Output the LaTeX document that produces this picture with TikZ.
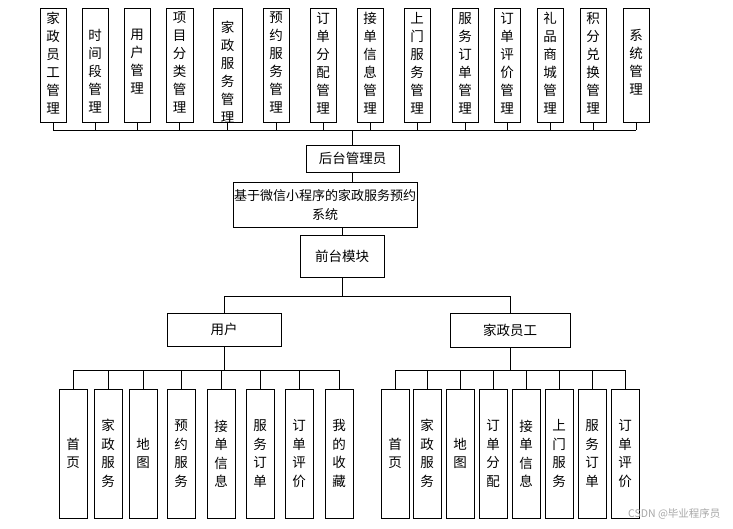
\documentclass[tikz,border=0pt]{standalone}
\usepackage{fontspec}
\setmainfont{Noto Sans CJK SC}
\begin{document}
\begin{tikzpicture}[x=1pt,y=-1pt,
  bx/.style={draw,line width=0.9pt,fill=white},
  vt/.style={font=\fontsize{13.5}{18}\selectfont,align=center,inner sep=0pt,anchor=north},
  ln/.style={line width=0.9pt}]
\useasboundingbox (0,0) rectangle (733,528);
% top boxes
\foreach \a/\b/\t/\ty [count=\i] in {40/66/{家\\政\\员\\工\\管\\理}/12, 82/108/{时\\间\\段\\管\\理}/29, 124/150/{用\\户\\管\\理}/29, 166/193/{项\\目\\分\\类\\管\\理}/12, 213/242/{家\\政\\服\\务\\管\\理}/21, 263/289/{预\\约\\服\\务\\管\\理}/12, 310/336/{订\\单\\分\\配\\管\\理}/12, 357/383/{接\\单\\信\\息\\管\\理}/12, 404/430/{上\\门\\服\\务\\管\\理}/12, 452/478/{服\\务\\订\\单\\管\\理}/12, 494/520/{订\\单\\评\\价\\管\\理}/12, 537/563/{礼\\品\\商\\城\\管\\理}/12, 580/606/{积\\分\\兑\\换\\管\\理}/12, 623/649/{系\\统\\管\\理}/29}{
  \draw[bx] (\a,8) rectangle (\b,122);
  \coordinate (t\i) at ({(\a+\b)/2},122);
  \coordinate (tb\i) at ({(\a+\b)/2},130);
  \node[vt] (tt\i) at ({(\a+\b)/2},\ty) {\t};
  \draw[ln] (t\i) -- (tb\i);
}
\draw[ln] (tb1) -- (tb14);
\node[bx,minimum width=93pt,minimum height=27pt,font=\fontsize{13.5}{16}\selectfont] (adm) at (352.5,158.5) {后台管理员};
\coordinate (admt) at (352.5,130);
\draw[ln] (adm.north) -- (admt);
\node[bx,minimum width=176pt,minimum height=45pt,inner xsep=1pt,align=center,font=\fontsize{13}{19}\selectfont] (sys) at (325,204.5) {基于微信小程序的家政服务预约\\系统};
\draw[ln] (adm.south) -- (adm.south |- sys.north);
\node[bx,minimum width=84pt,minimum height=42pt,font=\fontsize{13.5}{16}\selectfont] (qt) at (342,256) {前台模块};
\draw[ln] (qt.north |- sys.south) -- (qt.north);
\node[bx,minimum width=114pt,minimum height=33pt,font=\fontsize{13.5}{16}\selectfont] (yh) at (224,329.5) {用户};
\node[bx,minimum width=120pt,minimum height=34pt,font=\fontsize{13.5}{16}\selectfont] (yg) at (510,330) {家政员工};
\draw[ln] (qt.south) -- (342,296) -| (yh.north);
\draw[ln] (342,296) -| (yg.north);
% bottom user
\foreach \a/\t [count=\i] in {59/{首\\页}, 94/{家\\政\\服\\务}, 129/{地\\图}, 167/{预\\约\\服\\务}, 207/{接\\单\\信\\息}, 246/{服\\务\\订\\单}, 285/{订\\单\\评\\价}, 325/{我\\的\\收\\藏}}{
  \node[bx,minimum width=28pt,minimum height=129pt,inner sep=0pt,align=center,font=\fontsize{13.5}{18.5}\selectfont] (u\i) at (\a+14,453.5) {\t};
  \draw[ln] (u\i.north) -- (\a+14,370);
}
\draw[ln] (73,370) -- (339,370);
\draw[ln] (yh.south) -- (224,370);
\foreach \a/\t [count=\i] in {381/{首\\页}, 413/{家\\政\\服\\务}, 446/{地\\图}, 479/{订\\单\\分\\配}, 512/{接\\单\\信\\息}, 545/{上\\门\\服\\务}, 578/{服\\务\\订\\单}, 611/{订\\单\\评\\价}}{
  \node[bx,minimum width=28pt,minimum height=129pt,inner sep=0pt,align=center,font=\fontsize{13.5}{18.5}\selectfont] (e\i) at (\a+14,453.5) {\t};
  \draw[ln] (e\i.north) -- (\a+14,370);
}
\draw[ln] (395,370) -- (625,370);
\draw[ln] (yg.south) -- (510,370);
\node[text=gray!70,font=\fontsize{10.5}{12}\selectfont,anchor=east] (wm) at (724,514) {CSDN @毕业程序员};
\end{tikzpicture}
\end{document}
